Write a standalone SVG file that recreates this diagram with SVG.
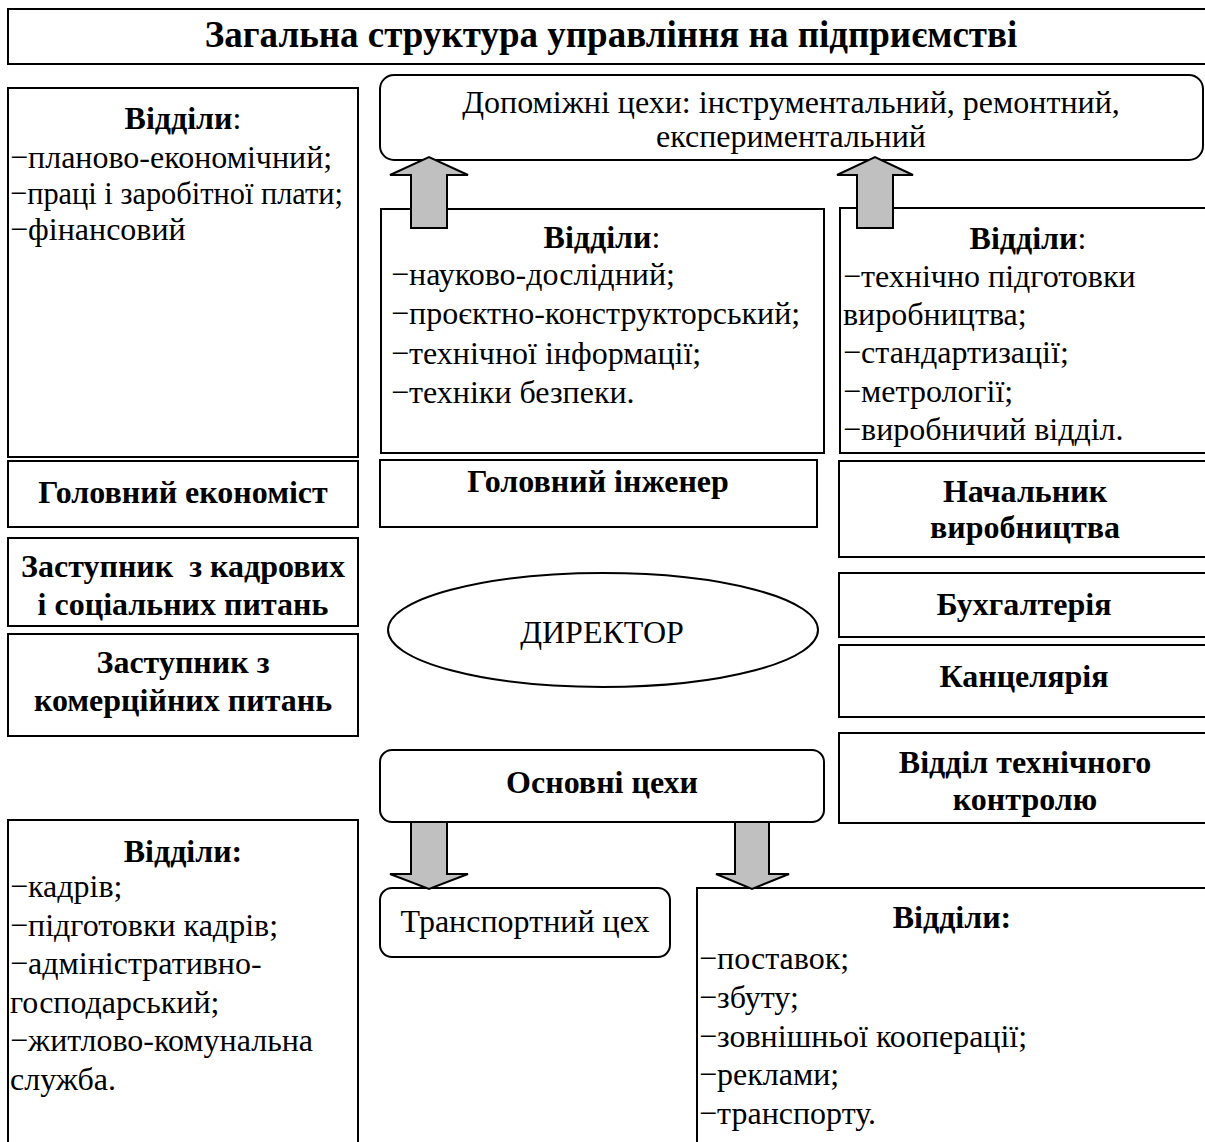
<svg xmlns="http://www.w3.org/2000/svg" width="1205" height="1142" viewBox="0 0 1205 1142">
<style>
.box{fill:#fff;stroke:#000;stroke-width:2}
.arr{fill:#c0c0c0;stroke:#000;stroke-width:2;stroke-linejoin:miter}
text{font-family:"Liberation Serif","Times New Roman",serif;font-size:32px;fill:#000}
.b{font-weight:bold}
.c{text-anchor:middle}
.t{font-size:37px;font-weight:bold}
</style>
<rect width="1205" height="1142" fill="#fff"/>
<g id="title">
<rect class="box" x="8" y="9" width="1210" height="55"/>
<text class="t c" x="611" y="47">Загальна структура управління на підприємстві</text>
</g>
<g id="econ-depts">
<rect class="box" x="8" y="88" width="350" height="369"/>
<text class="c" x="183" y="129"><tspan class="b">Відділи</tspan>:</text>
<text x="10" y="168">−планово-економічний;</text>
<text x="10" y="204" textLength="333" lengthAdjust="spacingAndGlyphs">−праці і заробітної плати;</text>
<text x="10" y="240">−фінансовий</text>
</g>
<g id="chief-economist">
<rect class="box" x="8" y="461" width="350" height="66"/>
<text class="b c" x="183" y="503">Головний економіст</text>
</g>
<g id="deputy-hr">
<rect class="box" x="8" y="538" width="350" height="88"/>
<text class="b c" x="183" y="577" xml:space="preserve">Заступник  з кадрових</text>
<text class="b c" x="183" y="615">і соціальних питань</text>
</g>
<g id="deputy-commercial">
<rect class="box" x="8" y="634" width="350" height="102"/>
<text class="b c" x="183" y="673">Заступник з</text>
<text class="b c" x="183" y="711">комерційних питань</text>
</g>
<g id="hr-depts">
<rect class="box" x="8" y="820" width="350" height="340"/>
<text class="b c" x="183" y="862">Відділи:</text>
<text x="10" y="897">−кадрів;</text>
<text x="10" y="936">−підготовки кадрів;</text>
<text x="10" y="974">−адміністративно-</text>
<text x="10" y="1013">господарський;</text>
<text x="10" y="1051">−житлово-комунальна</text>
<text x="10" y="1090">служба.</text>
</g>
<g id="aux-shops">
<rect class="box" x="380" y="75" width="823" height="85" rx="14"/>
<text class="c" x="791" y="113">Допоміжні цехи: інструментальний, ремонтний,</text>
<text class="c" x="791" y="147">експериментальний</text>
</g>
<g id="eng-depts">
<rect class="box" x="381" y="209" width="443" height="244"/>
<text class="c" x="602" y="248"><tspan class="b">Відділи</tspan>:</text>
<text x="391" y="285">−науково-дослідний;</text>
<text x="391" y="324">−проєктно-конструкторський;</text>
<text x="391" y="364">−технічної інформації;</text>
<text x="391" y="403">−техніки безпеки.</text>
</g>
<g id="prod-depts">
<rect class="box" x="840" y="208" width="380" height="245"/>
<text class="c" x="1028" y="249"><tspan class="b">Відділи</tspan>:</text>
<text x="843" y="287">−технічно підготовки</text>
<text x="843" y="325">виробництва;</text>
<text x="843" y="363">−стандартизації;</text>
<text x="843" y="402">−метрології;</text>
<text x="843" y="440">−виробничий відділ.</text>
</g>
<g id="chief-engineer">
<rect class="box" x="380" y="460" width="437" height="67"/>
<text class="b c" x="598" y="492">Головний інженер</text>
</g>
<g id="head-production">
<rect class="box" x="839" y="461" width="380" height="96"/>
<text class="b c" x="1025" y="502">Начальник</text>
<text class="b c" x="1025" y="538">виробництва</text>
</g>
<g id="accounting">
<rect class="box" x="839" y="573" width="380" height="64"/>
<text class="b c" x="1024" y="615">Бухгалтерія</text>
</g>
<g id="office">
<rect class="box" x="839" y="645" width="380" height="72"/>
<text class="b c" x="1024" y="687">Канцелярія</text>
</g>
<g id="qc">
<rect class="box" x="839" y="733" width="380" height="90"/>
<text class="b c" x="1025" y="773">Відділ технічного</text>
<text class="b c" x="1025" y="810">контролю</text>
</g>
<g id="director">
<ellipse class="box" cx="603" cy="630" rx="215" ry="57"/>
<text class="c" x="602" y="643">ДИРЕКТОР</text>
</g>
<g id="main-shops">
<rect class="box" x="380" y="750" width="444" height="72" rx="12"/>
<text class="b c" x="602" y="793">Основні цехи</text>
</g>
<g id="transport-shop">
<rect class="box" x="380" y="888" width="290" height="69" rx="12"/>
<text class="c" x="525" y="932">Транспортний цех</text>
</g>
<g id="supply-depts">
<rect class="box" x="697" y="888" width="520" height="270"/>
<text class="b c" x="952" y="928">Відділи:</text>
<text x="699" y="969">−поставок;</text>
<text x="699" y="1008">−збуту;</text>
<text x="699" y="1047">−зовнішньої кооперації;</text>
<text x="699" y="1085">−реклами;</text>
<text x="699" y="1124">−транспорту.</text>
</g>
<g id="connectors">
<polygon class="arr" points="411,228 411,175 390,175 429,157 468,175 447,175 447,228"/>
<polygon class="arr" points="857,228 857,175 837,175 875,157 913,175 893,175 893,228"/>
<polygon class="arr" points="411,822 411,874 390,874 429,889 468,874 447,874 447,822"/>
<polygon class="arr" points="735,822 735,874 716,874 752,889 789,874 769,874 769,822"/>
</g>
</svg>
